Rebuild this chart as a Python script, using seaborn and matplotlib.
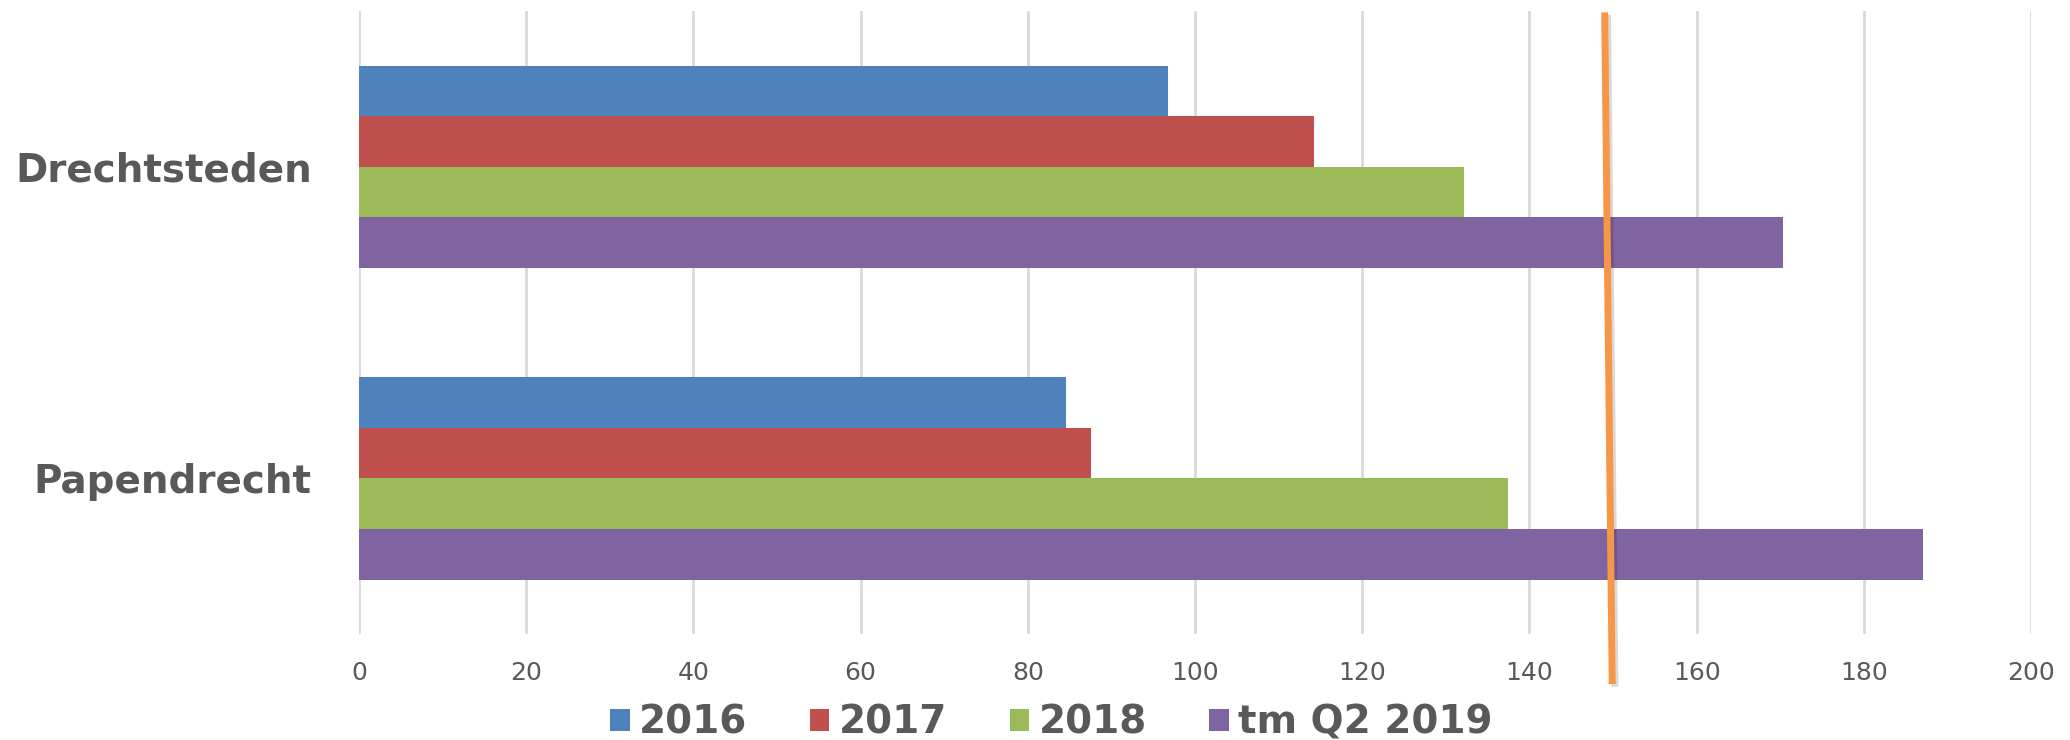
import pandas as pd
import numpy as np
import seaborn as sns
import matplotlib.pyplot as plt
import matplotlib.transforms as mtransforms
import matplotlib.patheffects as pe
from matplotlib.patches import Patch

# data
regions = ['Drechtsteden', 'Papendrecht']
series = ['2016', '2017', '2018', 'tm Q2 2019']
values = {
    '2016': [96.8, 84.6],
    '2017': [114.2, 87.6],
    '2018': [132.2, 137.4],
    'tm Q2 2019': [170.3, 187.1],
}
colors = ['#4F81BD', '#C0504D', '#9BBB59', '#8064A2']
x_ticks = [0, 20, 40, 60, 80, 100, 120, 140, 160, 180, 200]
# hand drawn target line, slightly slanted (value at top and at bottom)
target_top = 149.0
target_bottom = 149.9

rows = []
for s in series:
    for r, v in zip(regions, values[s]):
        rows.append({'Regio': r, 'Jaar': s, 'Waarde': v})
df = pd.DataFrame(rows)

sns.set_style('white')
plt.rcParams['font.family'] = ['DejaVu Sans']
text_color = '#595959'

fig = plt.figure(figsize=(20.7, 7.4), dpi=100)
ax = fig.add_axes([0.1734, 0.143, 0.9812 - 0.1734, 0.985 - 0.143])

sns.barplot(data=df, y='Regio', x='Waarde', hue='Jaar', order=regions,
            hue_order=series, palette=colors, orient='h', width=0.65,
            linewidth=0, saturation=1, ax=ax, legend=False, zorder=2)

ax.set_xlim(0, 200)
ax.set_ylim(1.5, -0.5)
ax.set_xticks(x_ticks)
ax.set_xticklabels([str(t) for t in x_ticks])
ax.grid(axis='x', color='#D9D9D9', linewidth=2, zorder=0)
ax.grid(axis='y', visible=False)
ax.set_axisbelow(True)
for sp in ax.spines.values():
    sp.set_visible(False)
ax.set_xlabel('')
ax.set_ylabel('')
ax.tick_params(axis='x', length=0, pad=19, labelsize=18, labelcolor=text_color)
ax.tick_params(axis='y', length=0, pad=34, labelcolor=text_color)
for lbl in ax.get_yticklabels():
    lbl.set_fontsize(28)
    lbl.set_fontweight('bold')

# orange target line, extends beyond the plot area
trans = mtransforms.blended_transform_factory(ax.transData, ax.transAxes)
ax.plot([target_top, target_bottom], [0.998, -0.08], color='#F79646',
        linewidth=5, transform=trans, clip_on=False, zorder=5,
        solid_capstyle='butt',
        path_effects=[pe.SimpleLineShadow(offset=(2, -2), alpha=0.15), pe.Normal()])

handles = [Patch(facecolor=c, edgecolor='none') for c in colors]
fig.legend(handles, series, loc='center', bbox_to_anchor=(0.508, 0.023),
           ncol=4, frameon=False, handlelength=0.5, handleheight=0.5,
           handletextpad=0.25, columnspacing=1.6,
           prop={'size': 28, 'weight': 'bold'}, labelcolor=text_color)

fig.savefig('out.png', dpi=100)
